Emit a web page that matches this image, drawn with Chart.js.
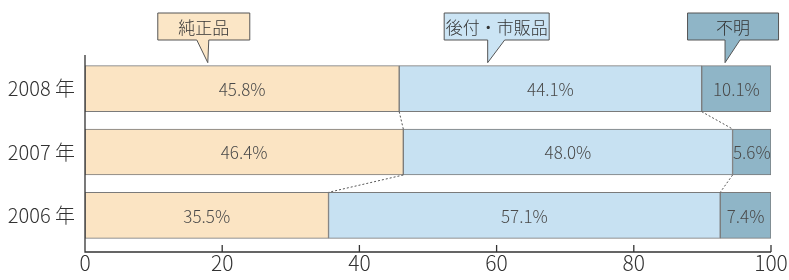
<!DOCTYPE html>
<html lang="ja">
<head>
<meta charset="UTF-8">
<title>純正品・後付・不明</title>
<script src="https://cdn.jsdelivr.net/npm/chart.js@4.4.0/dist/chart.umd.min.js"></script>
<style>
  html, body { margin: 0; padding: 0; background: #fff; }
  #wrap { width: 789px; height: 280px; position: relative; }
</style>
</head>
<body>
<div id="wrap"><canvas id="chart"></canvas></div>
<script>
const years = ['2008 年', '2007 年', '2006 年'];
const genuine = [45.8, 46.4, 35.5];
const aftermarket = [44.1, 48.0, 57.1];
const unknown = [10.1, 5.6, 7.4];
const seriesNames = ['純正品', '後付・市販品', '不明'];
const xTicks = [0, 20, 40, 60, 80, 100];
// where each callout points on the 2008 bar (percent scale)
const calloutAt = [17.9, 58.7, 93.3];

const FONT = '"Noto Sans CJK JP", "Noto Sans", sans-serif';
const fills = ['#fbe4c3', '#c7e1f2', '#8fb5c7'];

// percentage text in the middle of each segment
const segLabels = {
  id: 'segLabels',
  afterDatasetsDraw(chart) {
    const ctx = chart.ctx;
    ctx.save();
    ctx.font = '300 17px ' + FONT;
    ctx.fillStyle = '#4a4a4a';
    ctx.textAlign = 'center';
    ctx.textBaseline = 'middle';
    chart.data.datasets.forEach((ds, di) => {
      chart.getDatasetMeta(di).data.forEach((bar, i) => {
        const cx = (bar.x + bar.base) / 2;
        ctx.fillText(ds.data[i].toFixed(1) + '%', cx, bar.y + 1);
      });
    });
    ctx.restore();
  }
};

// axes lines, ticks, dotted connectors and callouts
const decor = {
  id: 'decor',
  afterDatasetsDraw(chart) {
    const ctx = chart.ctx;
    const xs = chart.scales.x;
    const area = chart.chartArea;
    const axisY = area.bottom + 5;
    ctx.save();
    ctx.strokeStyle = '#333';
    ctx.lineWidth = 1.3;
    ctx.beginPath();
    ctx.moveTo(area.left, area.top - 2);
    ctx.lineTo(area.left, axisY);
    ctx.lineTo(xs.getPixelForValue(100), axisY);
    ctx.stroke();
    xTicks.forEach(v => {
      if (v === 0) return;
      const px = xs.getPixelForValue(v);
      ctx.beginPath();
      ctx.moveTo(px, axisY);
      ctx.lineTo(px, axisY - 7);
      ctx.stroke();
    });

    // dotted connectors between consecutive bars
    ctx.setLineDash([2, 2]);
    ctx.lineWidth = 1;
    ctx.strokeStyle = '#555';
    [0, 1].forEach(di => {
      const bars = chart.getDatasetMeta(di).data;
      for (let i = 0; i < bars.length - 1; i++) {
        const a = bars[i], b = bars[i + 1];
        ctx.beginPath();
        ctx.moveTo(a.x, a.y + a.height / 2);
        ctx.lineTo(b.x, b.y - b.height / 2);
        ctx.stroke();
      }
    });
    ctx.setLineDash([]);

    // callouts
    const top = chart.getDatasetMeta(0).data[0];
    const tipY = top.y - top.height / 2 - 3;
    const boxes = [
      { w: 92, dx: -4, left: -11, right: 1, fill: '#fbe6c6' },
      { w: 105, dx: 9, left: 0, right: 17, fill: '#cbe4f4' },
      { w: 91, dx: 8, left: 0, right: 15, fill: '#8fb5c7' }
    ];
    ctx.font = '300 17px ' + FONT;
    ctx.textAlign = 'center';
    ctx.textBaseline = 'middle';
    boxes.forEach((b, k) => {
      const tx = xs.getPixelForValue(calloutAt[k]);
      const bx = tx + b.dx - b.w / 2;
      const by = 13, bh = 27;
      ctx.fillStyle = b.fill;
      ctx.strokeStyle = '#555';
      ctx.lineWidth = 1;
      ctx.beginPath();
      ctx.moveTo(bx, by);
      ctx.lineTo(bx + b.w, by);
      ctx.lineTo(bx + b.w, by + bh);
      ctx.lineTo(tx + b.right, by + bh);
      ctx.lineTo(tx, tipY);
      ctx.lineTo(tx + b.left, by + bh);
      ctx.lineTo(bx, by + bh);
      ctx.closePath();
      ctx.fill();
      ctx.stroke();
      ctx.fillStyle = '#333';
      ctx.fillText(seriesNames[k], bx + b.w / 2, by + bh / 2 + 1);
    });
    ctx.restore();
  }
};

new Chart(document.getElementById('chart'), {
  type: 'bar',
  data: {
    labels: years,
    datasets: [genuine, aftermarket, unknown].map((d, i) => ({
      label: seriesNames[i],
      data: d,
      backgroundColor: fills[i],
      borderColor: '#7a7a7a',
      borderWidth: 1,
      borderSkipped: false,
      barThickness: 46
    }))
  },
  options: {
    indexAxis: 'y',
    responsive: true,
    maintainAspectRatio: false,
    animation: false,
    layout: { padding: { top: 57, right: 18, left: 0, bottom: 0 } },
    plugins: { legend: { display: false }, tooltip: { enabled: false } },
    scales: {
      x: {
        stacked: true,
        min: 0,
        max: 100,
        afterBuildTicks: s => { s.ticks = xTicks.map(v => ({ value: v })); },
        grid: { display: false, drawTicks: false },
        border: { display: false },
        ticks: { padding: 3, color: '#333', font: { family: FONT, size: 21, weight: 300 } },
        afterFit: s => { s.height = 33; s.paddingRight = 0; s.paddingLeft = 0; }
      },
      y: {
        stacked: true,
        grid: { display: false, drawTicks: false },
        border: { display: false },
        ticks: { padding: 10, color: '#333', font: { family: FONT, size: 20, weight: 300 } },
        afterFit: s => { s.width = 85; }
      }
    }
  },
  plugins: [segLabels, decor]
});
</script>
</body>
</html>
